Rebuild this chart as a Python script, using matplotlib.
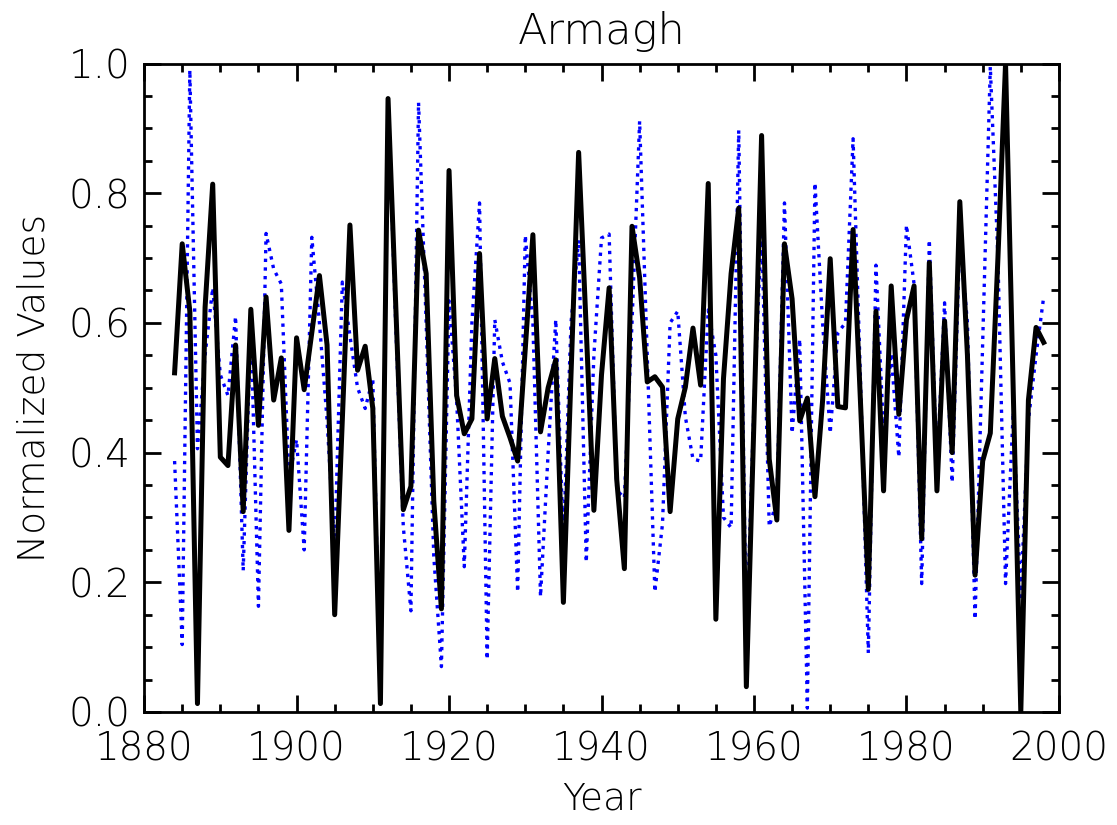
import numpy as np
import matplotlib
matplotlib.use('Agg')
import matplotlib.pyplot as plt
from matplotlib.ticker import MultipleLocator

# years of the record
years = np.arange(1884, 1999)

# solid black series (normalized)
black_vals = [
    0.523, 0.722, 0.618, 0.013, 0.624, 0.814,                           # 1884-1889
    0.393, 0.380, 0.566, 0.309, 0.621, 0.442, 0.640, 0.481, 0.546, 0.280,  # 1890s
    0.577, 0.497, 0.585, 0.673, 0.566, 0.150, 0.450, 0.751, 0.527, 0.564,  # 1900s
    0.468, 0.013, 0.946, 0.630, 0.312, 0.348, 0.743, 0.676, 0.325, 0.159,  # 1910s
    0.835, 0.488, 0.429, 0.452, 0.707, 0.452, 0.545, 0.456, 0.423, 0.387,  # 1920s
    0.560, 0.736, 0.432, 0.500, 0.543, 0.169, 0.520, 0.863, 0.590, 0.311,  # 1930s
    0.520, 0.654, 0.358, 0.221, 0.749, 0.670, 0.509, 0.517, 0.501, 0.309,  # 1940s
    0.452, 0.501, 0.592, 0.504, 0.815, 0.143, 0.514, 0.676, 0.777, 0.039,  # 1950s
    0.450, 0.889, 0.390, 0.296, 0.722, 0.637, 0.449, 0.484, 0.332, 0.480,  # 1960s
    0.699, 0.471, 0.469, 0.744, 0.470, 0.189, 0.618, 0.341, 0.657, 0.459,  # 1970s
    0.605, 0.657, 0.267, 0.693, 0.341, 0.603, 0.400, 0.787, 0.550, 0.211,  # 1980s
    0.387, 0.430, 0.700, 1.000, 0.500, 0.000, 0.481, 0.593, 0.570,         # 1990-1998
]

# dotted blue series (normalized)
blue_vals = [
    0.387, 0.104, 0.990, 0.406, 0.550, 0.654,
    0.520, 0.488, 0.610, 0.218, 0.600, 0.163, 0.738, 0.683, 0.660, 0.360,
    0.420, 0.250, 0.732, 0.600, 0.450, 0.250, 0.663, 0.580, 0.500, 0.468,
    0.514, 0.013, 0.946, 0.600, 0.286, 0.156, 0.940, 0.600, 0.240, 0.070,
    0.634, 0.480, 0.224, 0.600, 0.785, 0.081, 0.605, 0.540, 0.507, 0.185,
    0.735, 0.600, 0.178, 0.400, 0.605, 0.260, 0.600, 0.728, 0.231, 0.550,
    0.731, 0.737, 0.342, 0.330, 0.600, 0.911, 0.550, 0.185, 0.290, 0.600,
    0.618, 0.455, 0.390, 0.387, 0.620, 0.550, 0.300, 0.284, 0.897, 0.110,
    0.475, 0.748, 0.286, 0.325, 0.785, 0.430, 0.575, 0.006, 0.816, 0.600,
    0.430, 0.585, 0.600, 0.884, 0.500, 0.091, 0.689, 0.430, 0.553, 0.393,
    0.751, 0.660, 0.198, 0.728, 0.370, 0.631, 0.354, 0.735, 0.600, 0.143,
    0.570, 0.995, 0.700, 0.198, 0.462, 0.178, 0.450, 0.550, 0.640,
]

plt.close('all')
plt.rcParams['font.family'] = ['DejaVu Sans']
plt.rcParams['font.weight'] = 'light'
plt.rcParams['axes.titleweight'] = 'light'
plt.rcParams['axes.labelweight'] = 'light'
fig = plt.figure(figsize=(11.17, 8.25), dpi=100)
ax = fig.add_axes([0.129, 0.137, 0.819, 0.786])

ax.plot(years, blue_vals, color='blue', linestyle=(0, (1, 1.6)), linewidth=2.4)
ax.plot(years, black_vals, color='black', linestyle='-', linewidth=3.6)

ax.set_xlim(1880, 2000)
ax.set_ylim(0, 1)
ax.xaxis.set_major_locator(MultipleLocator(20))
ax.xaxis.set_minor_locator(MultipleLocator(5))
ax.yaxis.set_major_locator(MultipleLocator(0.2))
ax.yaxis.set_minor_locator(MultipleLocator(0.05))
ax.yaxis.set_major_formatter(matplotlib.ticker.FormatStrFormatter('%.1f'))

ax.tick_params(which='both', direction='in', top=True, right=True, width=2, labelsize=28)
ax.tick_params(axis='x', pad=13)
ax.tick_params(axis='y', pad=10)
ax.tick_params(which='major', length=12)
ax.tick_params(which='minor', length=6)
for s in ax.spines.values():
    s.set_linewidth(2)

ax.set_xlabel('Year', fontsize=27, labelpad=10)
ax.set_ylabel('Normalized Values', fontsize=27, labelpad=12)
ax.set_title('Armagh', fontsize=31, pad=14)

fig.savefig('out.png', dpi=100)
